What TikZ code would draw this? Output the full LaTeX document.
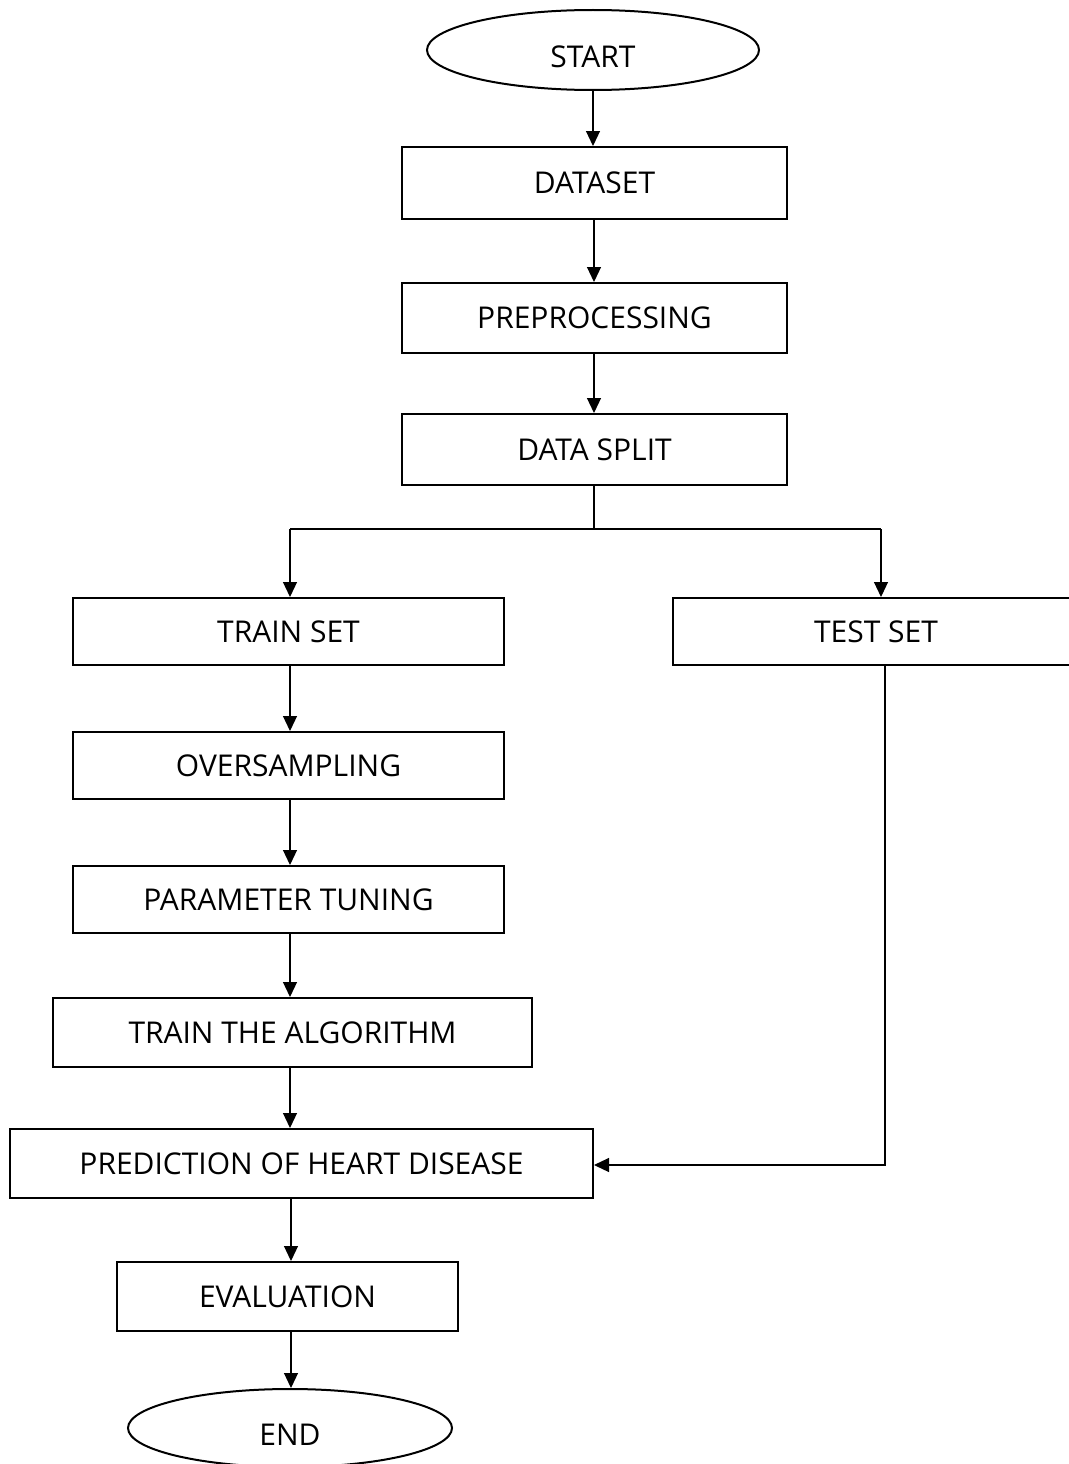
\documentclass[tikz,border=0pt]{standalone}
\usepackage{fontspec}
\setmainfont{Open Sans}
\usetikzlibrary{shapes.geometric,arrows.meta}
\tikzset{
  stepbox/.style={draw, line width=2pt, rectangle, inner sep=0pt,
    font=\fontsize{30}{30}\selectfont, text height=21.5pt, text depth=0pt},
  terminal/.style={draw, line width=2pt, ellipse, inner sep=0pt,
    font=\fontsize{30}{30}\selectfont, text height=35pt, text depth=0pt},
  flow/.style={line width=1.2pt, -{Triangle[length=15pt,width=14pt]}},
  plain/.style={line width=1.2pt}
}
\begin{document}
\begin{tikzpicture}[x=1pt,y=-1pt]
\useasboundingbox (0,0) rectangle (1068,1464);
\fill[white] (0,0) rectangle (1068,1464);

% main column
\node[terminal, minimum width=332pt, minimum height=80pt] (start) at (593,50) {START};
\node[stepbox, minimum width=385pt, minimum height=72pt] (dataset) at (594.5,183) {DATASET};
\node[stepbox, minimum width=385pt, minimum height=70pt] (prep) at (594.5,318) {PREPROCESSING};
\node[stepbox, minimum width=385pt, minimum height=71pt] (split) at (594.5,449.5) {DATA SPLIT};

% two branches
\node[stepbox, minimum width=431pt, minimum height=67pt] (train) at (288.5,631.5) {TRAIN SET};
\node[stepbox, minimum width=406pt, minimum height=67pt] (test) at (876,631.5) {TEST SET};

\node[stepbox, minimum width=431pt, minimum height=67pt] (over) at (288.5,765.5) {OVERSAMPLING};
\node[stepbox, minimum width=431pt, minimum height=67pt] (tune) at (288.5,899.5) {PARAMETER TUNING};
\node[stepbox, minimum width=479pt, minimum height=69pt] (algo) at (292.5,1032.5) {TRAIN THE ALGORITHM};
\node[stepbox, minimum width=583pt, minimum height=69pt] (pred) at (301.5,1163.5) {PREDICTION OF HEART DISEASE};
\node[stepbox, minimum width=341pt, minimum height=69pt] (eval) at (287.5,1296.5) {EVALUATION};
\node[terminal, minimum width=324pt, minimum height=78pt] (end) at (290,1428) {END};

% junction points of the split and the test path
\coordinate (fork) at (594,529);
\coordinate (forkL) at (290,529);
\coordinate (forkR) at (881,529);
\coordinate (testout) at (885,665);
\coordinate (testturn) at (885,1165);

% connectors
\draw[flow] (start.south -| 593,0) -- (dataset.north -| 593,0);
\draw[flow] (dataset.south -| 594,0) -- (prep.north -| 594,0);
\draw[flow] (prep.south -| 594,0) -- (split.north -| 594,0);
\draw[plain] (split.south -| fork) -- (fork);
\draw[plain] (forkL) -- (forkR);
\draw[flow] (forkL) -- (train.north -| forkL);
\draw[flow] (forkR) -- (test.north -| forkR);
\draw[flow] (train.south -| 290,0) -- (over.north -| 290,0);
\draw[flow] (over.south -| 290,0) -- (tune.north -| 290,0);
\draw[flow] (tune.south -| 290,0) -- (algo.north -| 290,0);
\draw[flow] (algo.south -| 290,0) -- (pred.north -| 290,0);
\draw[flow] (pred.south -| 291,0) -- (eval.north -| 291,0);
\draw[flow] (eval.south -| 291,0) -- (end.north -| 291,0);
\draw[flow] (testout) -- (testturn) -- (pred.east |- testturn);
\end{tikzpicture}
\end{document}
